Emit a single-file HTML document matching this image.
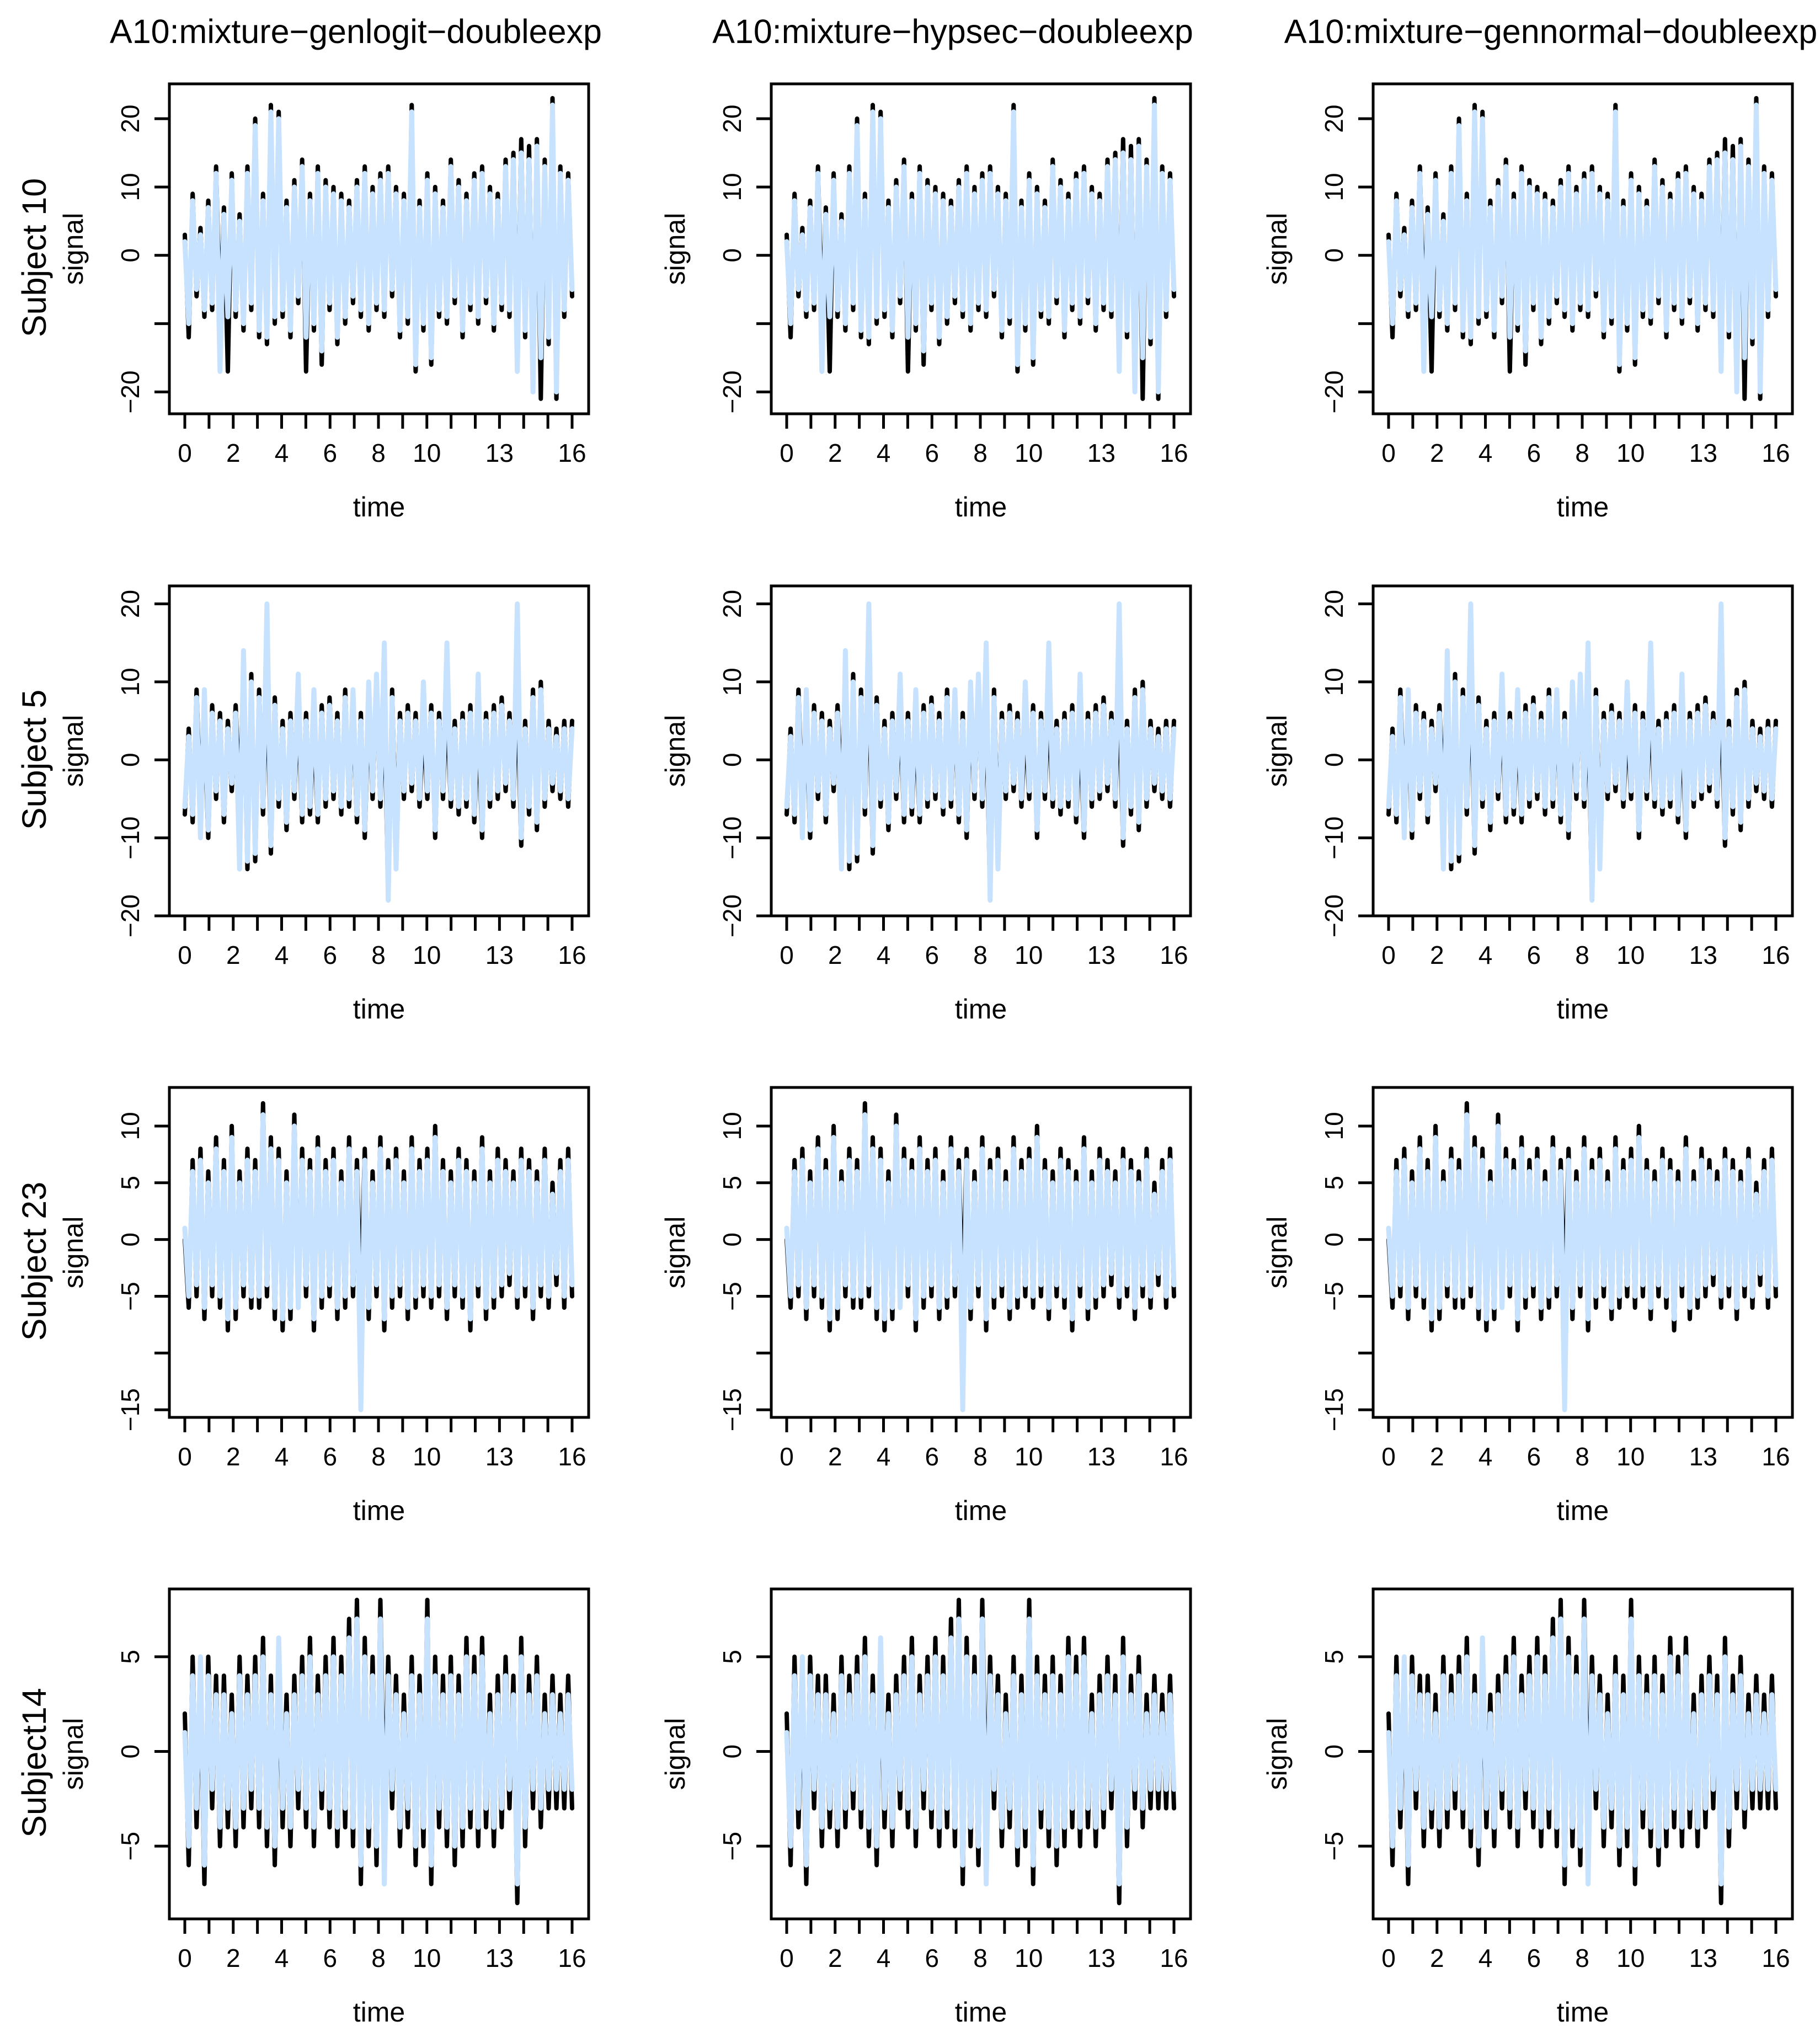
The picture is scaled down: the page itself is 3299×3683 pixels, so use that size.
<!DOCTYPE html>
<html>
<head>
<meta charset="utf-8">
<style>
html,body{margin:0;padding:0;background:#fff;}
svg{display:block;}
text{font-family:"Liberation Sans",Arial,sans-serif;fill:#000;}
</style>
</head>
<body>
<svg id="chart" xmlns="http://www.w3.org/2000/svg" width="3299" height="3683" viewBox="0 0 3299 3683"></svg>
<script>
// ---- data ----
const colTitles = ["A10:mixture\u2212genlogit\u2212doubleexp","A10:mixture\u2212hypsec\u2212doubleexp","A10:mixture\u2212gennormal\u2212doubleexp"];
const rowLabels = ["Subject 10","Subject 5","Subject 23","Subject14"];
const xTicks = [0,1,2,3,4,5,6,7,8,9,10,11,12,13,14,15,16];
const xTickLabels = ["0","2","4","6","8","10","13","16"];
const xTickLabelValues = [0,2,4,6,8,10,13,16];
const yTicksRow1 = [-20,-10,0,10,20];
const yLabelsRow1 = ["\u221220","","0","10","20"];
const yTicksRow2 = [-20,-10,0,10,20];
const yLabelsRow2 = ["\u221220","\u221210","0","10","20"];
const yTicksRow3 = [-15,-10,-5,0,5,10];
const yLabelsRow3 = ["\u221215","","\u22125","0","5","10"];
const yTicksRow4 = [-5,0,5];
const yLabelsRow4 = ["\u22125","0","5"];
const yLimRow1 = [-23.2,25.1];
const yLimRow2 = [-20,22.3];
const yLimRow3 = [-15.67,13.4];
const yLimRow4 = [-8.84,8.58];

const signalRow1 = [3,-12,9,-6,4,-9,8,-8,13,-10,7,-17,12,-9,6,-11,13,-8,20,-12,9,-13,22,-10,21,-9,8,-12,11,-7,14,-17,9,-11,13,-16,11,-8,10,-13,9,-10,8,-7,11,-9,13,-11,10,-8,12,-9,13,-6,10,-12,9,-10,22,-17,8,-11,12,-16,10,-9,8,-10,14,-7,11,-12,9,-8,12,-10,13,-7,10,-11,9,-8,14,-9,15,-14,17,-12,16,-18,17,-21,14,-13,23,-21,13,-9,12,-6];
const fitRow1 = [2,-10,8,-5,3,-8,7,-7,12,-17,6,-9,11,-8,5,-10,12,-7,19,-11,8,-12,21,-9,20,-8,7,-11,10,-6,13,-12,8,-10,12,-14,10,-7,9,-12,8,-9,7,-6,10,-8,12,-10,9,-7,11,-8,12,-5,9,-11,8,-9,21,-16,7,-10,11,-15,9,-8,7,-9,13,-6,10,-11,8,-7,11,-9,12,-6,9,-10,8,-7,13,-8,14,-17,15,-11,14,-20,16,-15,13,-12,22,-20,12,-8,11,-5];
const signalRow2 = [-7,4,-8,9,-6,5,-10,7,-5,6,-8,5,-4,7,-6,12,-14,11,-13,9,-7,12,-12,8,-6,5,-9,6,-5,7,-8,6,-7,5,-8,7,-6,8,-5,6,-7,9,-6,7,-8,6,-10,7,-5,10,-6,8,-18,9,-11,6,-5,7,-4,6,-6,5,-5,7,-10,6,-5,8,-6,5,-7,6,-6,7,-8,5,-10,6,-6,7,-5,8,-4,6,-6,10,-11,5,-7,9,-9,10,-6,5,-4,4,-5,5,-6,5];
const fitRow2 = [-6,3,-7,8,-10,9,-9,6,-4,5,-7,4,-3,6,-14,14,-13,10,-12,8,-6,20,-11,7,-5,4,-8,5,-4,11,-7,5,-6,9,-7,6,-5,7,-4,5,-6,8,-5,9,-7,5,-9,10,-4,11,-5,15,-18,8,-14,5,-4,6,-3,5,-5,10,-4,6,-9,5,-4,15,-5,4,-6,5,-5,6,-7,11,-9,5,-5,6,-4,7,-3,5,-5,20,-10,4,-6,8,-8,9,-5,4,-3,3,-4,4,-5,4];
const signalRow3 = [0,-6,7,-5,8,-7,6,-5,9,-6,7,-8,10,-7,6,-5,8,-6,7,-6,12,-5,9,-7,8,-8,6,-7,11,-6,8,-5,7,-8,9,-6,7,-5,8,-7,6,-6,9,-5,7,-6,8,-7,6,-5,9,-8,7,-6,8,-5,6,-7,9,-6,7,-5,8,-6,10,-5,7,-7,6,-5,8,-6,7,-8,6,-5,9,-7,6,-6,8,-5,7,-4,6,-6,8,-5,7,-7,6,-5,8,-6,5,-4,7,-6,8,-5];
const fitRow3 = [1,-5,6,-4,7,-6,5,-4,8,-5,6,-7,9,-6,5,-4,7,-5,6,-5,11,-4,8,-6,7,-7,5,-6,10,-6,7,-4,6,-7,8,-5,6,-4,7,-6,5,-5,8,-4,6,-15,7,-6,5,-4,8,-7,6,-5,7,-4,5,-6,8,-5,6,-4,7,-5,9,-4,6,-6,5,-4,7,-5,6,-7,5,-4,8,-6,5,-5,7,-4,6,-3,5,-5,7,-4,6,-6,5,-4,7,-5,4,-3,6,-5,7,-4];
const signalRow4 = [2,-6,5,-4,4,-7,5,-3,4,-5,4,-4,3,-5,5,-4,4,-3,5,-4,6,-5,4,-6,5,-4,3,-5,4,-3,5,-4,6,-5,4,-3,5,-4,6,-5,5,-4,7,-5,8,-7,6,-5,5,-6,8,-4,5,-3,4,-5,3,-4,5,-6,4,-5,8,-7,5,-4,4,-5,5,-6,4,-5,6,-4,5,-5,6,-4,3,-5,4,-4,5,-3,4,-8,6,-5,4,-3,5,-4,3,-3,4,-3,3,-3,4,-3];
const fitRow4 = [1,-5,4,-3,5,-6,4,-2,3,-4,3,-3,2,-4,4,-3,3,-2,4,-3,5,-4,3,-5,6,-3,2,-4,3,-2,4,-3,5,-4,3,-2,4,-3,5,-4,4,-3,6,-4,7,-6,5,-4,4,-5,7,-7,4,-2,3,-4,2,-3,4,-5,3,-4,7,-6,4,-3,3,-4,4,-5,3,-4,5,-3,4,-4,5,-3,2,-4,3,-3,4,-2,3,-7,5,-4,3,-2,4,-3,2,-2,3,-2,2,-2,3,-2];

const signals = [signalRow1, signalRow2, signalRow3, signalRow4];
const fits = [fitRow1, fitRow2, fitRow3, fitRow4];
const yTicksAll = [yTicksRow1, yTicksRow2, yTicksRow3, yTicksRow4];
const yLabelsAll = [yLabelsRow1, yLabelsRow2, yLabelsRow3, yLabelsRow4];
const yLims = [yLimRow1, yLimRow2, yLimRow3, yLimRow4];

// ---- layout ----
const NS = "http://www.w3.org/2000/svg";
const svg = document.getElementById("chart");
const colLeft = [307, 1398, 2489];
const titleCx = [645, 1727, 2811];
const rowTop = [152, 1062, 1971, 2880];
const boxW = 760, boxH = 598;
const xPad0 = 28, xSpan = 702;

function el(tag, attrs, parent) {
  const e = document.createElementNS(NS, tag);
  for (const k in attrs) e.setAttribute(k, attrs[k]);
  (parent || svg).appendChild(e);
  return e;
}

colTitles.forEach((t, c) => {
  const tx = el("text", {x: titleCx[c], y: 78, "text-anchor": "middle", "font-size": 61});
  
  
  tx.textContent = t;
});

for (let r = 0; r < 4; r++) {
  const top = rowTop[r], bottom = top + boxH;
  const [ymin, ymax] = yLims[r];
  const yScale = v => bottom - (v - ymin) / (ymax - ymin) * boxH;

  for (let c = 0; c < 3; c++) {
    const left = colLeft[c];
    const xScale = t => left + xPad0 + t / 16 * xSpan;
    const g = el("g", {});
    
    

    const drawSeries = (arr, color, w, name) => {
      const n = arr.length;
      const pts = arr.map((v, i) => xScale(i * 16 / (n - 1)).toFixed(1) + "," + yScale(v).toFixed(1)).join(" ");
      const pl = el("polyline", {points: pts, fill: "none", stroke: color, "stroke-width": w, "stroke-linejoin": "round", "stroke-linecap": "round"}, g);
      
      
    };
    drawSeries(signals[r], "#000", 8, 'signal-line');
    drawSeries(fits[r], "#C6E2FF", 9, 'fitted-line');

    const box = el("rect", {x: left, y: top, width: boxW, height: boxH, fill: "none", stroke: "#000", "stroke-width": 5}, g);
    
    

    xTicks.forEach(t => {
      const tk = el("line", {x1: xScale(t), x2: xScale(t), y1: bottom, y2: bottom + 27, stroke: "#000", "stroke-width": 5}, g);
      
      
    });
    xTickLabelValues.forEach((t, i) => {
      const tl = el("text", {x: xScale(t), y: bottom + 87, "text-anchor": "middle", "font-size": 46}, g);
      
      
      tl.textContent = xTickLabels[i];
    });
    const xl = el("text", {x: left + boxW / 2, y: bottom + 186, "text-anchor": "middle", "font-size": 50}, g);
    
    
    xl.textContent = "time";

    yTicksAll[r].forEach((v, i) => {
      const yy = yScale(v);
      const tk = el("line", {x1: left - 27, x2: left, y1: yy, y2: yy, stroke: "#000", "stroke-width": 5}, g);
      
      
      const lab = yLabelsAll[r][i];
      if (lab) {
        const tl = el("text", {x: 0, y: 0, "text-anchor": "middle", "font-size": 46, transform: "translate(" + (left - 55) + "," + yy + ") rotate(-90)"}, g);
        
        
        tl.textContent = lab;
      }
    });
    const yl = el("text", {x: 0, y: 0, "text-anchor": "middle", "font-size": 50, transform: "translate(" + (left - 157) + "," + (top + boxH / 2) + ") rotate(-90)"}, g);
    
    
    yl.textContent = "signal";
  }
  const rl = el("text", {x: 0, y: 0, "text-anchor": "middle", "font-size": 61, transform: "translate(83," + (top + boxH / 2 + 16) + ") rotate(-90)"});
  
  
  rl.textContent = rowLabels[r];
}
</script>
</body>
</html>
